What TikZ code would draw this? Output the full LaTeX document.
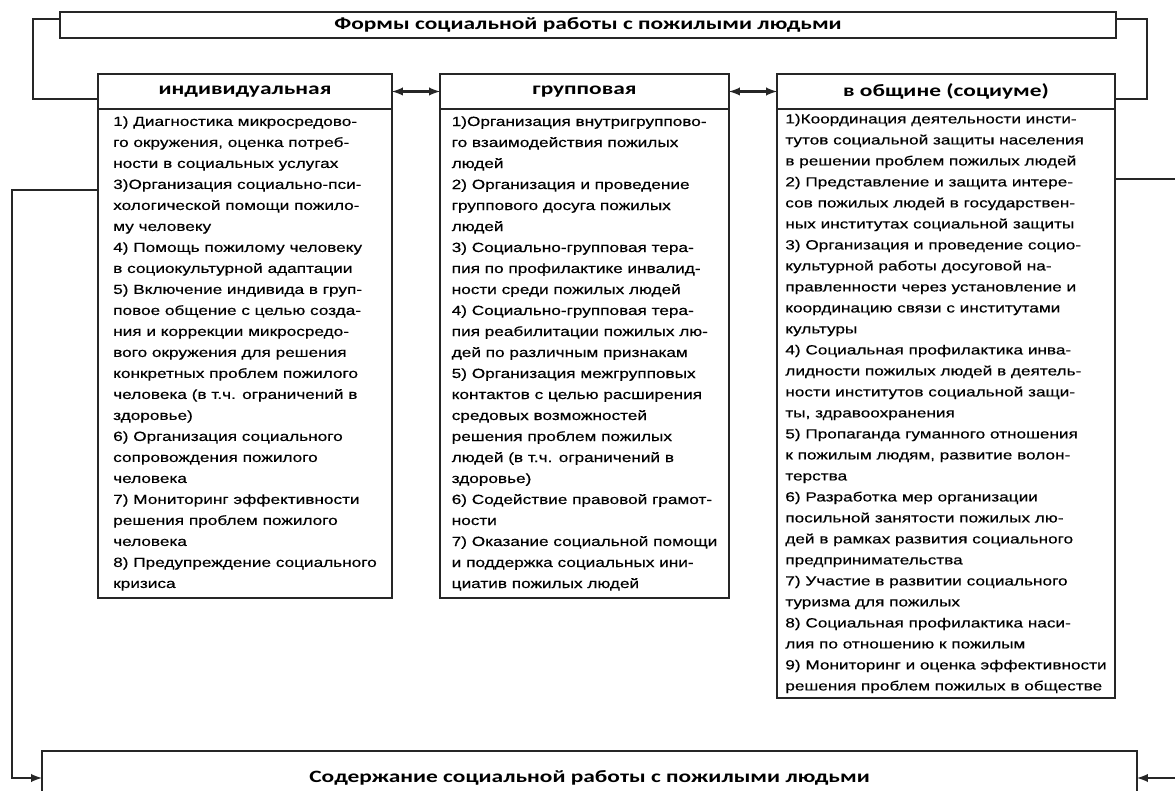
\documentclass[tikz,border=0pt]{standalone}
\usepackage{fontspec}
\setmainfont{Liberation Sans}
\newfontfamily\listfont[FakeStretch=1.29, FakeBold=0.4]{Liberation Sans}
\newfontfamily\headfont[FakeStretch=1.35]{Carlito}
\usetikzlibrary{arrows, positioning}

\tikzset{
  titlebox/.style={draw, inner sep=0pt, outer sep=0pt, font=\headfont\bfseries\fontsize{13}{15}\selectfont},
  formbox/.style={draw, inner sep=0pt, outer sep=0pt, minimum height=26.25pt, font=\headfont\bfseries\fontsize{13}{15}\selectfont},
  listbox/.style={draw, align=left, inner sep=0pt, outer sep=0pt, font=\listfont\fontsize{10}{15.75}\selectfont}
}

\begin{document}
\begin{tikzpicture}[>=latex, x=0.75pt, y=-0.75pt, line width=1.8pt, draw=black!85, node distance=0pt]

	\useasboundingbox (0,0) rectangle (1175,791);

	\node [titlebox, minimum width=792pt, minimum height=19.5pt] (forms) at (588,25) {Формы социальной работы с пожилыми людьми};

	\node [formbox, minimum width=220.5pt] (ind) at (245,91.5) {индивидуальная};
	\node [formbox, minimum width=216.75pt] (grp) at (584.5,91.5) {групповая};
	\node [formbox, minimum width=253.5pt] (comm) at (946,91.5) {в общине (социуме)};

	\node [listbox, minimum width=220.5pt, minimum height=366.75pt, below=of ind] (indlist) {%
		1) Диагностика микросредово-\\
		го окружения, оценка потреб-\\
		ности в социальных услугах\\
		3)Организация социально-пси-\\
		хологической помощи пожило-\\
		му человеку\\
		4) Помощь пожилому человеку\\
		в социокультурной адаптации\\
		5) Включение индивида в груп-\\
		повое общение с целью созда-\\
		ния и коррекции микросредо-\\
		вого окружения для решения\\
		конкретных проблем пожилого\\
		человека (в т.ч. ограничений в\\
		здоровье)\\
		6) Организация социального\\
		сопровождения пожилого\\
		человека\\
		7) Мониторинг эффективности\\
		решения проблем пожилого\\
		человека\\
		8) Предупреждение социального\\
		кризиса};

	\node [listbox, minimum width=216.75pt, minimum height=366.75pt, below=of grp] (grplist) {%
		1)Организация внутригруппово-\\
		го взаимодействия пожилых\\
		людей\\
		2) Организация и проведение\\
		группового досуга пожилых\\
		людей\\
		3) Социально-групповая тера-\\
		пия по профилактике инвалид-\\
		ности среди пожилых людей\\
		4) Социально-групповая тера-\\
		пия реабилитации пожилых лю-\\
		дей по различным признакам\\
		5) Организация межгрупповых\\
		контактов с целью расширения\\
		средовых возможностей\\
		решения проблем пожилых\\
		людей (в т.ч. ограничений в\\
		здоровье)\\
		6) Содействие правовой грамот-\\
		ности\\
		7) Оказание социальной помощи\\
		и поддержка социальных ини-\\
		циатив пожилых людей};

	\node [listbox, minimum width=253.5pt, minimum height=441.75pt, below=of comm] (commlist) {%
		1)Координация деятельности инсти-\\
		тутов социальной защиты населения\\
		в решении проблем пожилых людей\\
		2) Представление и защита интере-\\
		сов пожилых людей в государствен-\\
		ных институтах социальной защиты\\
		3) Организация и проведение социо-\\
		культурной работы досуговой на-\\
		правленности через установление и\\
		координацию связи с институтами\\
		культуры\\
		4) Социальная профилактика инва-\\
		лидности пожилых людей в деятель-\\
		ности институтов социальной защи-\\
		ты, здравоохранения\\
		5) Пропаганда гуманного отношения\\
		к пожилым людям, развитие волон-\\
		терства\\
		6) Разработка мер организации\\
		посильной занятости пожилых лю-\\
		дей в рамках развития социального\\
		предпринимательства\\
		7) Участие в развитии социального\\
		туризма для пожилых\\
		8) Социальная профилактика наси-\\
		лия по отношению к пожилым\\
		9) Мониторинг и оценка эффективности\\
		решения проблем пожилых в обществе};

	\node [titlebox, minimum width=821.25pt, minimum height=40.5pt] (content) at (589.5,778) {Содержание социальной работы с пожилыми людьми};

	% links from the title to the three forms
	\draw ([yshift=4.5pt]forms.west) -- ++(-27,0) |- ([yshift=-5.6pt]ind.west);
	\draw ([yshift=4.5pt]forms.east) -- ++(31,0) |- ([yshift=-5.6pt]comm.east);
	\draw [<->] (ind) -- (grp);
	\draw [<->] (grp) -- (comm);

	% links down to the content
	\draw [->] ([yshift=-60.75pt]indlist.north west) -- ++(-86,0) |- (content.west);
	\draw [->] ([yshift=-52.5pt]commlist.north east) -- ++(80,0) |- (content.east);

\end{tikzpicture}
\end{document}
